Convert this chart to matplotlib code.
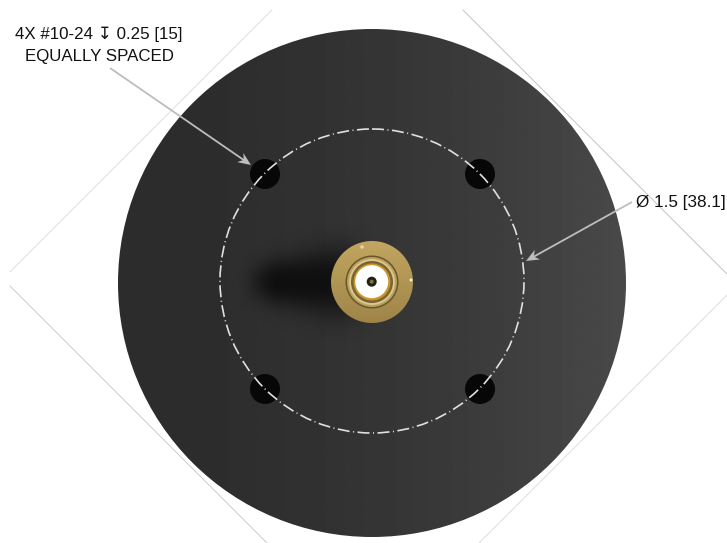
import numpy as np
import matplotlib.pyplot as plt
from matplotlib.patches import Circle

W, H = 727, 543

# everything is in reference pixels, y down
disc_center = (372, 283)
disc_radius = 254
bolt_x = [265, 480, 265, 480]
bolt_y = [174, 174, 389, 389]
bolt_radius = 15
pcd_radius = 152
guide_x = [[272, 10], [463, 727], [10, 267], [727, 479]]
guide_y = [[10, 272], [10, 274], [286, 543], [295, 543]]
guide_colors = ['#dcdcdc', '#bcbcbc', '#c4c4c4', '#d8d8d8']
ring_radii = [26.5, 25, 23, 21, 18.5]
ring_colors = ['#6a5526', '#b9a05f', '#d8c890', '#7a6430', '#c9962e']

fig = plt.figure(figsize=(W / 100, H / 100), dpi=100)
ax = fig.add_axes([0, 0, 1, 1])
ax.set_xlim(0, W)
ax.set_ylim(H, 0)
ax.axis('off')

# construction lines behind the disc
for xs, ys, c in zip(guide_x, guide_y, guide_colors):
    ax.plot(xs, ys, color=c, lw=0.6, zorder=1)

# disc with left-to-right shading
xx, yy = np.meshgrid(np.linspace(0, 1, 300), np.linspace(0, 1, 300))
shade = 44 + 29 * xx ** 1.8
disc_box = [disc_center[0] - disc_radius, disc_center[0] + disc_radius,
            disc_center[1] + disc_radius, disc_center[1] - disc_radius]
im = ax.imshow(shade, extent=disc_box, cmap='gray', vmin=0, vmax=255,
               zorder=2, aspect='auto')
im.set_clip_path(Circle(disc_center, disc_radius, transform=ax.transData))

# soft shadow left of the connector, widening towards it
sx, sy = np.meshgrid(np.linspace(230, 375, 145), np.linspace(225, 340, 115))
spread = 18 + 16 * np.clip((sx - 250) / 80, 0, 1)
ramp = np.clip((sx - 236) / 42, 0, 1)
tail = np.clip((375 - sx) / 30, 0, 1)
fade = ramp * ramp * (3 - 2 * ramp) * tail * np.exp(-(np.abs(sy - 282) / spread) ** 2.4)
shadow = np.zeros(sx.shape + (4,))
shadow[..., 3] = 0.68 * fade
ax.imshow(shadow, extent=[230, 375, 340, 225], zorder=3, aspect='auto')

# mounting holes
for bx, by in zip(bolt_x, bolt_y):
    ax.add_patch(Circle((bx, by), bolt_radius, color='#070707', lw=0, zorder=4))

# bolt circle
ax.add_patch(Circle((372, 281), pcd_radius, fill=False, ec='#e0e0e0', lw=1.2,
                    ls=(0, (7.2, 2.1, 0.6, 2.1)), zorder=5))

# connector flange, lighter towards the top
fx, fy = np.meshgrid(np.linspace(0, 1, 100), np.linspace(0, 1, 100))
flange_rgb = np.zeros(fx.shape + (3,))
flange_rgb[..., 0] = 0.76 - 0.14 * fy
flange_rgb[..., 1] = 0.65 - 0.13 * fy
flange_rgb[..., 2] = 0.38 - 0.10 * fy
fl = ax.imshow(flange_rgb, extent=[331, 413, 323, 241], zorder=6, aspect='auto')
fl.set_clip_path(Circle((372, 282), 41, transform=ax.transData))
ax.add_patch(Circle((411, 280), 1.5, color='#f4f0e0', lw=0, zorder=6.5))
ax.add_patch(Circle((362, 247), 1.8, color='#e0d4a8', lw=0, zorder=6.5))

for r, c in zip(ring_radii, ring_colors):
    ax.add_patch(Circle((372, 282), r, color=c, lw=0, zorder=6.6))
ax.add_patch(Circle((371.7, 281.7), 16.5, color='white', lw=0, zorder=7))
ax.add_patch(Circle((371.7, 281.7), 5, color='#20201a', lw=0, zorder=8))
ax.add_patch(Circle((371.7, 281.7), 2, color='#8a7038', lw=0, zorder=9))

# labels and leaders
fam = ['Liberation Sans', 'DejaVu Sans']
ax.text(99, 34.5, '4X #10-24 \u21a7 0.25 [15]', ha='center', va='center',
        fontsize=12.2, family=fam, color='#111111', zorder=10)
ax.text(99, 57, 'EQUALLY SPACED', ha='center', va='center',
        fontsize=12.2, family=fam, color='#111111', zorder=10)
ax.text(636, 202.5, '\u00d8 1.5 [38.1]', ha='left', va='center',
        fontsize=12.3, family=fam, color='#111111', zorder=10)


def leader(start, tip):
    # shaft plus a notched head
    start, tip = np.array(start, float), np.array(tip, float)
    u = (tip - start) / np.hypot(*(tip - start))
    n = np.array([-u[1], u[0]])
    ax.plot([start[0], (tip - 6 * u)[0]], [start[1], (tip - 6 * u)[1]],
            color='#bdbdbd', lw=1.3, zorder=10, solid_capstyle='butt')
    head = [tip, tip - 13 * u + 5.5 * n, tip - 9 * u, tip - 13 * u - 5.5 * n]
    ax.fill(*zip(*head), color='#bdbdbd', lw=0, zorder=10)


leader((110, 68), (251, 165))
leader((632, 202), (526, 261))

ax.set_xlim(0, W)
ax.set_ylim(H, 0)
fig.savefig('out.png', dpi=100)
